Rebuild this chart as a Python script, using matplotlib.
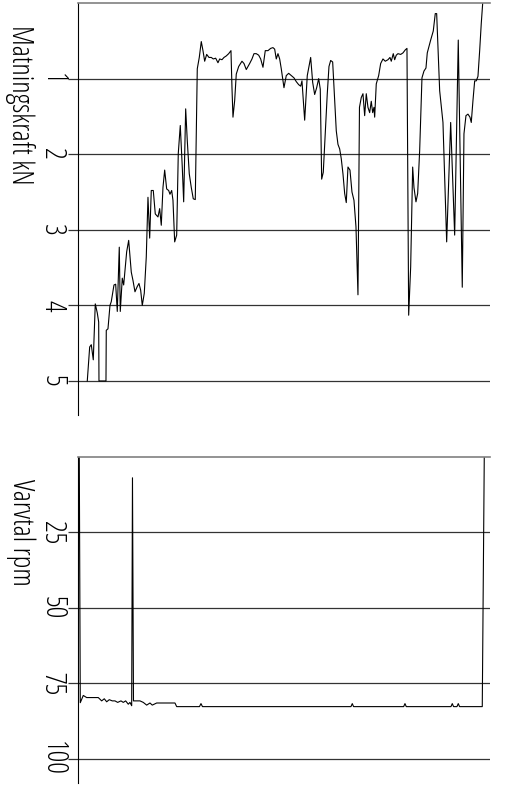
import matplotlib
matplotlib.use('Agg')
import matplotlib.pyplot as plt
from matplotlib.font_manager import FontProperties

plt.rcParams['font.family'] = ['DejaVu Sans']

# Matningskraft kN längs borrningen (läge, kraft)
kraft_pos = [9.3, 11.7, 13.3, 15.3, 17.3, 19.3, 20.7, 21.0, 28.0, 28.3, 30.0, 32.0, 33.3, 34.7,
             36.0, 37.7, 39.3, 41.3, 42.3, 44.3, 45.7, 48.7, 50.7, 53.3, 55.0, 57.0, 59.3, 61.0,
             62.7, 64.3, 66.3, 68.3, 70.0, 71.7, 73.3, 75.3, 77.3, 80.0, 81.7, 83.3, 85.0, 86.7,
             88.7, 90.7, 92.0, 93.7, 95.0, 96.7, 98.7, 100.3, 102.3, 104.3, 105.7, 107.7, 109.3,
             111.3, 113.3, 115.3, 117.3, 119.3, 121.3, 123.3, 125.0, 126.7, 128.7, 131.0, 133.3,
             135.3, 137.7, 140.0, 141.7, 144.0, 146.0, 148.3, 150.7, 153.0, 154.0, 155.0, 156.7,
             158.3, 160.7, 164.0, 166.0, 168.3, 171.7, 174.0, 176.0, 178.3, 180.7, 182.7, 185.0,
             187.3, 190.0, 192.7, 195.0, 196.7, 198.3, 200.0, 201.7, 203.3, 206.0, 208.3, 210.7,
             213.3, 216.0, 218.3, 220.7, 222.7, 224.0, 226.7, 229.3, 232.7, 234.7, 236.7, 238.7,
             240.7, 242.3, 243.7, 245.3, 247.3, 249.3, 251.0, 252.7, 254.7, 256.7, 258.3, 260.0,
             261.7, 263.3, 265.0, 266.7, 268.3, 270.0, 272.0, 274.0, 276.0, 278.0, 280.0, 281.5,
             283.3, 285.0, 286.7, 288.3, 290.0, 291.7, 293.3, 294.7, 296.0, 296.7, 298.3, 300.7,
             302.7, 305.0, 307.3, 310.0, 312.0, 313.3, 315.3, 316.7, 318.3, 320.0, 322.7, 325.0,
             327.3, 329.0, 330.7, 332.7, 334.7, 336.0, 338.0, 339.7, 341.7, 344.0, 346.0, 348.0,
             349.3, 352.7, 355.3, 357.3, 358.7, 361.7, 365.0, 368.7, 372.7, 376.7, 380.3, 384.3,
             386.0, 388.0, 390.0, 392.0, 393.3, 395.0, 396.7, 398.3, 400.0, 401.7, 403.3, 405.0]
kraft_kn = [5.00, 4.55, 4.52, 4.72, 3.98, 4.10, 4.22, 5.00, 5.00, 4.33, 4.31, 4.00, 3.95, 3.84,
            3.73, 3.72, 4.08, 3.23, 4.08, 3.64, 3.73, 3.29, 3.14, 3.56, 3.67, 3.82, 3.75, 3.71,
            3.80, 4.00, 3.84, 3.36, 2.57, 3.11, 2.48, 2.48, 2.79, 2.83, 2.72, 2.94, 2.44, 2.21,
            2.46, 2.48, 2.53, 2.48, 2.61, 3.16, 3.07, 1.99, 1.62, 2.17, 2.63, 1.40, 1.82,
            2.26, 2.44, 2.59, 2.60, 0.87, 0.72, 0.51, 0.63, 0.77, 0.68, 0.72, 0.72,
            0.74, 0.73, 0.79, 0.74, 0.75, 0.72, 0.70, 0.67, 0.63, 1.12, 1.51, 1.29,
            0.94, 0.84, 0.77, 0.80, 0.88, 0.80, 0.74, 0.67, 0.67, 0.69, 0.74, 0.85,
            0.63, 0.63, 0.60, 0.59, 0.61, 0.74, 0.67, 0.74, 0.87, 1.12, 0.96, 0.93,
            0.96, 0.99, 1.04, 1.08, 1.10, 1.03, 1.55, 0.96, 0.72, 1.05, 1.21, 1.12,
            1.00, 1.14, 2.33, 2.24, 1.73, 1.20, 0.84, 0.76, 0.78, 1.28, 1.69, 1.87,
            1.93, 2.06, 2.26, 2.52, 2.64, 2.17, 2.21, 2.50, 2.61, 2.96, 3.86, 1.38,
            1.25, 1.20, 1.49, 1.20, 1.38, 1.45, 1.30, 1.45, 1.38, 1.51, 1.07, 0.96,
            0.80, 0.74, 0.77, 0.75, 0.72, 0.77, 0.67, 0.75, 0.69, 0.67, 0.68, 0.66,
            0.62, 0.60, 4.13, 3.49, 2.17, 2.44, 2.63, 2.52, 1.95, 0.99, 0.90, 0.86,
            0.66, 0.49, 0.37, 0.14, 0.14, 1.16, 1.58, 3.16, 1.58, 3.07, 0.49, 3.76,
            1.73, 1.49, 1.47, 1.51, 1.58, 1.29, 1.03, 1.03, 0.97, 0.63, 0.27, -0.05]

# Varvtal rpm
varv_pos = [1.3, 2.3, 5.3, 8.7, 20.3, 23.7, 26.3, 28.7, 31.3, 34.3, 37.0, 39.7, 43.0, 45.3,
            47.7, 50.3, 52.0, 53.7, 54.5, 55.5, 62.0, 65.3, 68.7, 72.0, 74.3, 78.7, 85.3,
            97.0, 98.7, 121.5, 123.0, 124.5, 273.0, 274.3, 275.6, 325.7, 327.0, 328.3,
            373.0, 374.3, 375.6, 379.0, 380.3, 381.6, 404.3, 406.3]
varv_rpm = [0.0, 81.4, 79.0, 79.7, 79.7, 80.8, 80.1, 81.1, 80.4, 80.8, 80.8, 81.3, 80.8, 81.3,
            80.8, 81.9, 81.3, 82.4, 6.9, 80.8, 80.8, 81.3, 82.2, 81.5, 82.2, 81.5, 81.5,
            81.5, 82.7, 82.7, 81.7, 82.7, 82.7, 81.7, 82.7, 82.7, 81.7, 82.7,
            82.7, 81.7, 82.7, 82.7, 81.7, 82.7, 82.7, 0.0]

kraft_ticks = [1, 2, 3, 4, 5]
varv_ticks = [25, 50, 75, 100]

tick_font = FontProperties(family='Open Sans', weight='light', stretch='condensed', size=21)
label_font = FontProperties(family='Open Sans', weight='light', stretch='condensed', size=21)

fig = plt.figure(figsize=(5.07, 7.95), dpi=100)
ax1 = fig.add_axes([0.1538, 0.478, 0.8126, 0.5182])
ax2 = fig.add_axes([0.1538, 0.0151, 0.8126, 0.4101])


def style(ax, ticks, ylim):
    ax.set_xlim(0, 412)
    ax.set_ylim(ylim)
    ax.set_yticks(ticks)
    ax.set_xticks([])
    ax.grid(axis='y', color='#333333', lw=0.9)
    ax.set_axisbelow(True)
    ax.spines['right'].set_visible(False)
    ax.spines['bottom'].set_visible(False)
    ax.spines['left'].set_color('black')
    ax.spines['left'].set_linewidth(0.8)
    ax.spines['top'].set_color('#808080')
    ax.spines['top'].set_linewidth(1.2)
    ax.tick_params(axis='y', length=7.5, width=0.9, color='#333333', pad=0.5,
                   labelrotation=-90)
    for t in ax.get_yticklabels():
        t.set_fontproperties(tick_font)
        t.set_va('center')


style(ax1, kraft_ticks, (5.45, 0))
style(ax2, varv_ticks, (108, 0))

ax1.plot(kraft_pos, kraft_kn, color='black', lw=0.8)
ax2.plot(varv_pos, varv_rpm, color='black', lw=0.8)

fig.text(20 / 507, 1 - 25 / 795, 'Matningskraft kN', rotation=-90, ha='center', va='top',
         fontproperties=label_font)
fig.text(21 / 507, 1 - 479 / 795, 'Varvtal rpm', rotation=-90, ha='center', va='top',
         fontproperties=label_font)

fig.savefig('out.png', dpi=100)
